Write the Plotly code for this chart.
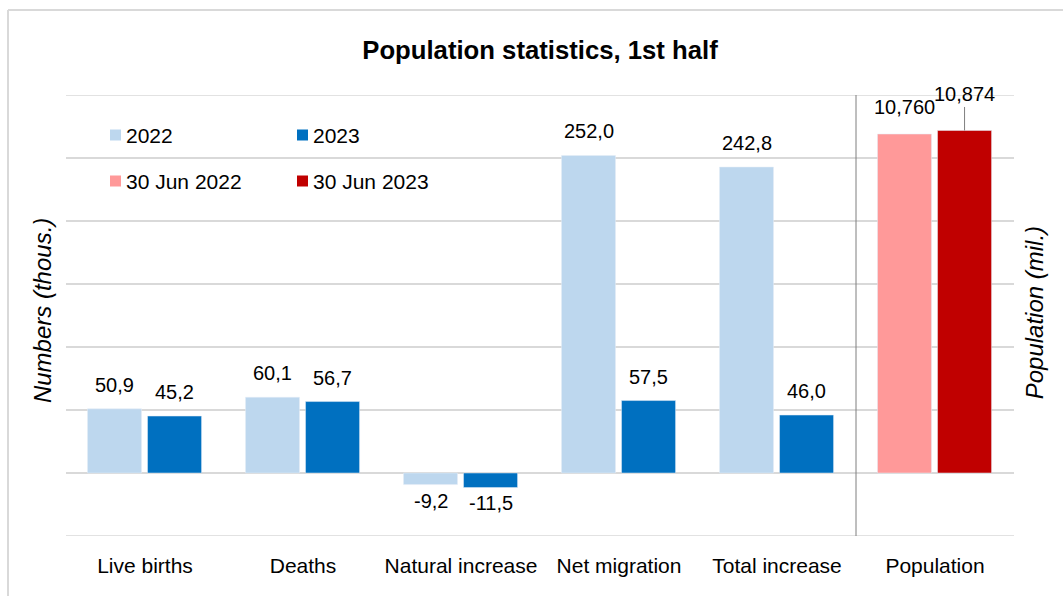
import plotly.graph_objects as go

# ---- data ----
categories = ["Live births", "Deaths", "Natural increase", "Net migration", "Total increase", "Population"]
flow_categories = categories[:5]
values_2022 = [50.9, 60.1, -9.2, 252.0, 242.8]      # thousands
values_2023 = [45.2, 56.7, -11.5, 57.5, 46.0]      # thousands
population_labels = ["30 Jun 2022", "30 Jun 2023"]
population_values = [10.760, 10.874]                # millions

# ---- styling ----
FONT = "Liberation Sans, Arial, sans-serif"
C_2022 = "#BDD7EE"
C_2023 = "#0070C0"
C_POP22 = "#FF9999"
C_POP23 = "#C00000"
GRID = "#D9D9D9"
BAR_W = 0.342
OFF_A = -0.364
OFF_B = 0.016
Y_RANGE = [-50, 300]

W, H = 1063, 596
L, R, T, B = 66, 49, 95, 60

fig = go.Figure()
fig.add_bar(x=flow_categories, y=values_2022, name="2022", marker_color=C_2022,
            width=BAR_W, offset=OFF_A, showlegend=False)
fig.add_bar(x=flow_categories, y=values_2023, name="2023", marker_color=C_2023,
            width=BAR_W, offset=OFF_B, showlegend=False)
fig.add_bar(x=["Population"], y=[population_values[0]], name=population_labels[0],
            marker_color=C_POP22, width=BAR_W, offset=OFF_A, yaxis="y2", showlegend=False)
fig.add_bar(x=["Population"], y=[population_values[1]], name=population_labels[1],
            marker_color=C_POP23, width=BAR_W, offset=OFF_B, yaxis="y2", showlegend=False)

annotations = []


def fmt(v, nd):
    return f"{v:.{nd}f}".replace(".", ",")


# value labels for the flow bars
for series, off in ((values_2022, OFF_A), (values_2023, OFF_B)):
    for i, v in enumerate(series):
        annotations.append(dict(
            x=i + off + BAR_W / 2, y=v, xref="x", yref="y", text=fmt(v, 1),
            showarrow=False, xanchor="center",
            yanchor="bottom" if v >= 0 else "top",
            yshift=11 if v >= 0 else -3,
            font=dict(family=FONT, size=20, color="#000000")))

# population labels (second one lifted with a leader line)
pop_idx = categories.index("Population")
annotations.append(dict(
    x=pop_idx + OFF_A + BAR_W / 2, y=population_values[0], xref="x", yref="y2",
    text=fmt(population_values[0], 3), showarrow=False, xanchor="center",
    yanchor="bottom", yshift=14, font=dict(family=FONT, size=20, color="#000000")))
annotations.append(dict(
    x=pop_idx + OFF_B + BAR_W / 2, y=population_values[1], xref="x", yref="y2",
    text=fmt(population_values[1], 3), showarrow=True, arrowhead=0, arrowwidth=1,
    arrowcolor="#7F7F7F", ax=0, ay=-36, standoff=0,
    font=dict(family=FONT, size=20, color="#000000")))

# axis titles
annotations.append(dict(
    x=(42 - L) / (W - L - R), y=0.51, xref="paper", yref="paper",
    xanchor="center", yanchor="middle",
    text="<i>Numbers (thous.)</i>", textangle=-90, showarrow=False,
    font=dict(family=FONT, size=24, color="#000000")))
annotations.append(dict(
    x=(1034 - L) / (W - L - R), y=0.505, xref="paper", yref="paper",
    xanchor="center", yanchor="middle",
    text="<i>Population (mil.)</i>", textangle=-90, showarrow=False,
    font=dict(family=FONT, size=24, color="#000000")))

# legend drawn as squares + labels in a 2x2 grid
legend_items = [("2022", C_2022), ("2023", C_2023),
                (population_labels[0], C_POP22), (population_labels[1], C_POP23)]
pw, ph = W - L - R, H - T - B
shapes = []
for k, (label, color) in enumerate(legend_items):
    col, row = k % 2, k // 2
    sx = 110 + col * 187
    sy = 135 + row * 46
    shapes.append(dict(type="rect", xref="paper", yref="paper",
                       x0=(sx - L) / pw, x1=(sx + 11 - L) / pw,
                       y0=(H - B - (sy + 5.5)) / ph, y1=(H - B - (sy - 5.5)) / ph,
                       fillcolor=color, line=dict(width=0)))
    annotations.append(dict(x=(sx + 14 - L) / pw, y=(H - B - sy) / ph,
                            xref="paper", yref="paper", text=label, showarrow=False,
                            xanchor="left", yanchor="middle",
                            font=dict(family=FONT, size=21, color="#000000")))

# gridlines at both ends of the value range
for yv in Y_RANGE:
    shapes.append(dict(type="line", xref="paper", yref="y", x0=0, x1=1, y0=yv, y1=yv,
                       line=dict(color=GRID, width=1.5), layer="below"))

# separator between flows and population
shapes.append(dict(type="line", xref="x", yref="paper", x0=4.5, x1=4.5, y0=0, y1=1,
                   line=dict(color="#7F7F7F", width=1)))

# outer frame (top and left edges)
fx = (8 - L) / pw
fy = (H - B - 10) / ph
shapes.append(dict(type="line", xref="paper", yref="paper", x0=fx, x1=1.2, y0=fy, y1=fy,
                   line=dict(color=GRID, width=2)))
shapes.append(dict(type="line", xref="paper", yref="paper", x0=fx, x1=fx, y0=fy, y1=-0.3,
                   line=dict(color=GRID, width=2)))

fig.update_layout(
    width=W, height=H,
    margin=dict(l=L, r=R, t=T, b=B),
    paper_bgcolor="white", plot_bgcolor="white",
    barmode="overlay",
    font=dict(family=FONT, size=20, color="#000000"),
    title=dict(text="<b>Population statistics, 1st half</b>", x=0.5, xanchor="center",
               xref="paper", y=1 - 50 / H, yref="container", yanchor="middle",
               font=dict(family=FONT, size=25.7, color="#000000")),
    xaxis=dict(type="category", categoryorder="array", categoryarray=categories,
               range=[-0.5, len(categories) - 0.5], showgrid=False, zeroline=False,
               showline=False, ticks="", ticklabelstandoff=15,
               tickfont=dict(family=FONT, size=21, color="#000000")),
    yaxis=dict(range=Y_RANGE, dtick=50, tick0=0, showticklabels=False, showgrid=True,
               gridcolor=GRID, gridwidth=1.5, zeroline=False, showline=False, ticks=""),
    yaxis2=dict(range=[-2, 12], overlaying="y", side="right", showticklabels=False,
                showgrid=False, zeroline=False, showline=False, ticks=""),
    annotations=annotations,
    shapes=shapes,
    showlegend=False,
)

fig.write_html("out.html")
